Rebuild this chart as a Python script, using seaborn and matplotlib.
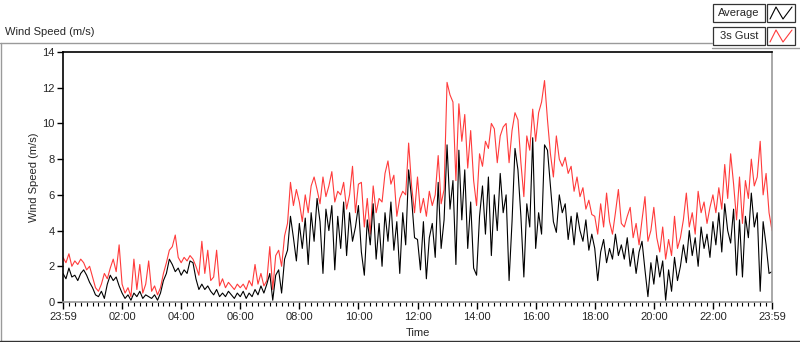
import numpy as np
import pandas as pd
import matplotlib
matplotlib.use("Agg")
import matplotlib.pyplot as plt
from matplotlib.lines import Line2D
from matplotlib.patches import Rectangle
from matplotlib.ticker import MultipleLocator
import seaborn as sns

# wind speed sampled every 6 minutes, 00:00 -> 24:00 (m/s)
average = [
    1.6, 1.3, 1.9, 1.4, 1.5, 1.2, 1.6, 1.8, 1.5, 1.1,
    0.8, 0.4, 0.3, 0.6, 0.2, 1.0, 1.5, 1.2, 1.4, 0.9,
    0.5, 0.2, 0.4, 0.1, 0.5, 0.3, 0.6, 0.2, 0.4, 0.3,
    0.2, 0.4, 0.1, 0.5, 1.2, 1.6, 2.4, 2.1, 1.7, 1.9,
    1.5, 1.8, 1.6, 2.3, 2.2, 1.3, 0.7, 1.0, 0.7, 0.9,
    0.6, 0.4, 0.7, 0.3, 0.5, 0.3, 0.6, 0.4, 0.2, 0.5,
    0.3, 0.6, 0.2, 0.5, 0.3, 0.7, 0.4, 0.9, 0.5, 1.0,
    1.6, 0.1, 1.5, 1.8, 0.5, 2.4, 2.9, 4.8, 3.6, 2.3,
    4.4, 3.0, 4.7, 2.1, 5.0, 3.4, 5.8, 4.5, 1.6, 5.2,
    4.0, 5.4, 1.8, 4.8, 3.0, 5.6, 2.6, 5.0, 3.4, 4.2,
    5.4, 2.8, 1.5, 4.6, 3.2, 5.5, 2.4, 4.4, 2.0, 5.0,
    3.4, 5.6, 2.9, 4.5, 1.6, 5.0, 3.2, 7.4, 5.8, 3.6,
    3.5, 1.8, 4.5, 1.3, 3.6, 4.4, 2.5, 6.7, 3.0, 4.6,
    8.8, 5.2, 6.8, 2.1, 8.5, 4.6, 7.4, 3.0, 5.6, 1.9,
    1.5, 4.8, 6.5, 3.8, 7.0, 2.6, 6.0, 4.0, 7.2, 5.0,
    6.0, 1.2, 4.5, 8.6, 7.4, 4.8, 1.4, 5.5, 4.2, 9.2,
    3.0, 5.0, 3.8, 8.8, 8.5, 6.5, 4.5, 3.9, 6.0, 5.0,
    5.5, 3.5, 4.8, 3.2, 5.0, 4.0, 3.4, 4.6, 2.9, 3.8,
    3.0, 1.2, 2.8, 3.5, 2.2, 3.0, 2.4, 3.8, 2.6, 3.2,
    2.4, 3.6, 2.0, 3.0, 1.6, 2.8, 3.4, 1.8, 0.3, 2.2,
    1.0, 2.6, 1.4, 2.3, 0.1, 1.8, 0.6, 2.5, 1.2, 2.0,
    3.2, 2.2, 4.0, 2.6, 3.6, 2.0, 4.2, 3.0, 3.8, 2.5,
    4.5, 3.2, 5.0, 2.8, 5.5, 4.0, 3.3, 5.2, 1.5, 4.6,
    1.4, 4.8, 3.6, 6.1, 4.2, 5.0, 0.6, 4.5, 3.2, 1.6,
    1.7,
]
gust = [
    2.5, 2.2, 2.7, 2.0, 2.3, 2.1, 2.4, 2.2, 1.8, 2.0,
    1.4, 0.8, 0.6, 1.0, 1.6, 1.3, 1.9, 2.4, 1.7, 3.2,
    1.0, 0.5, 0.8, 0.3, 2.4, 0.7, 2.1, 0.5, 1.0, 2.3,
    0.6, 0.9, 0.4, 0.8, 1.6, 2.2, 2.9, 3.1, 3.75, 2.5,
    2.2, 2.5, 2.3, 2.6, 2.4, 2.0, 1.5, 3.4, 1.6, 2.9,
    1.2, 1.4, 2.9, 0.9, 1.3, 0.8, 1.1, 0.9, 0.7, 1.0,
    0.8, 1.0, 0.7, 1.2, 0.9, 2.1, 1.0, 1.6, 0.9, 1.2,
    3.1, 0.7, 2.6, 2.9, 2.0, 3.7, 4.4, 6.7, 5.4, 6.3,
    5.6, 4.5, 6.0, 5.0, 6.5, 7.0, 6.3, 5.5, 7.0, 5.9,
    6.5, 7.3, 5.6, 6.2, 6.0, 6.7, 5.2, 6.0, 7.6, 5.0,
    6.6, 6.7, 4.2, 5.8, 3.8, 6.5, 5.0, 5.8, 5.6, 7.2,
    7.9, 6.6, 7.1, 4.8, 5.8, 6.2, 6.0, 8.9, 6.5, 5.0,
    7.0, 5.0, 5.8, 4.8, 6.2, 5.4, 6.0, 8.2, 5.5, 6.3,
    12.3, 11.6, 11.2, 6.8, 11.1, 9.0, 10.5, 7.5, 9.6, 6.8,
    5.4, 8.3, 7.6, 9.0, 8.6, 10.0, 9.7, 7.8, 9.3, 9.8,
    10.0, 7.8, 9.6, 10.6, 10.2, 7.8, 5.9, 9.3, 8.5, 10.8,
    9.0, 10.6, 11.2, 12.4, 10.2, 8.3, 7.0, 9.3, 8.0, 7.6,
    8.1, 7.2, 7.6, 6.2, 7.0, 5.9, 6.4, 5.2, 5.7, 4.9,
    4.8, 3.8, 5.5, 4.2, 6.1, 4.5, 3.8, 5.0, 6.3, 4.4,
    4.2, 4.8, 5.3, 3.6, 4.4, 3.2, 4.6, 5.9, 3.4, 4.0,
    5.3, 3.6, 2.8, 4.2, 2.4, 3.5, 2.6, 4.8, 3.0, 3.6,
    4.6, 6.1, 4.2, 5.0, 3.8, 6.2, 5.0, 5.6, 4.4, 5.3,
    6.0, 5.0, 6.4, 5.2, 7.7, 5.8, 8.3, 6.6, 4.6, 7.0,
    4.4, 6.8, 5.8, 8.0, 6.5, 7.0, 9.0, 6.0, 7.2, 5.0,
    4.0,
]
time_labels = ["23:59", "02:00", "04:00", "06:00", "08:00", "10:00", "12:00",
               "14:00", "16:00", "18:00", "20:00", "22:00", "23:59"]

hours = np.arange(len(average)) * 0.1
df = pd.DataFrame({"Hour": hours, "Average": average, "3s Gust": gust})

sns.set_style("white")
plt.rcParams["font.family"] = ["Liberation Sans", "DejaVu Sans"]
plt.rcParams["font.size"] = 8

W, H = 800, 342
fig = plt.figure(figsize=(W / 100, H / 100), dpi=100)


def fx(x):
    return x / W


def fy(y):
    return 1 - y / H


ax = fig.add_axes([fx(63), fy(302), fx(772 - 63), (302 - 52) / H])
sns.lineplot(data=df, x="Hour", y="3s Gust", color="#ff3b3b", lw=0.8, ax=ax)
sns.lineplot(data=df, x="Hour", y="Average", color="black", lw=0.8, ax=ax)

ax.set_xlim(0, 24)
ax.set_ylim(0, 14)
ax.set_xticks(range(0, 25, 2))
ax.set_xticklabels(time_labels)
ax.xaxis.set_minor_locator(MultipleLocator(0.2))
ax.set_yticks(range(0, 15, 2))
ax.tick_params(axis="x", which="major", bottom=True, length=5, width=1, pad=2, color="black")
ax.tick_params(axis="x", which="minor", bottom=True, length=3, width=0.8, color="black")
ax.tick_params(axis="y", left=True, length=4, width=1, pad=2, color="black")
ax.set_xlabel("Time")
ax.set_ylabel("Wind Speed (m/s)")
ax.xaxis.set_label_coords(0.5, -0.105)
ax.yaxis.set_label_coords(-0.034, 0.5)

for side in ["top", "left"]:
    ax.spines[side].set_color("black")
    ax.spines[side].set_linewidth(1.2)
for side in ["bottom", "right"]:
    ax.spines[side].set_color("#999999")
    ax.spines[side].set_linewidth(1.2)

# panel frame
gray = "#9a9a9a"
fig.add_artist(Line2D([fx(0), fx(712)], [fy(42.5), fy(42.5)], color=gray, lw=1))
fig.add_artist(Line2D([fx(712), fx(800)], [fy(47.5), fy(47.5)], color=gray, lw=1))
fig.add_artist(Line2D([fx(0.5), fx(0.5)], [fy(42.5), fy(341)], color=gray, lw=1))
fig.add_artist(Line2D([fx(0), fx(800)], [fy(341), fy(341)], color="#333333", lw=1))

fig.text(fx(5), fy(32), "Wind Speed (m/s)", va="center", ha="left", fontsize=8)

# legend
for top, name, col in [(4, "Average", "black"), (27, "3s Gust", "#ff3b3b")]:
    fig.add_artist(Rectangle((fx(713), fy(top + 18)), fx(52), 18 / H, transform=fig.transFigure,
                             facecolor="white", edgecolor="#333333", lw=0.9))
    fig.add_artist(Rectangle((fx(767), fy(top + 18)), fx(28), 18 / H, transform=fig.transFigure,
                             facecolor="white", edgecolor="#333333", lw=0.9))
    fig.text(fx(739), fy(top + 9), name, ha="center", va="center", fontsize=8)
    fig.add_artist(Line2D([fx(770), fx(776), fx(783), fx(792)],
                          [fy(top + 15), fy(top + 3), fy(top + 15), fy(top + 3)],
                          color=col, lw=0.8))

fig.savefig("out.png", dpi=100, facecolor="white")
